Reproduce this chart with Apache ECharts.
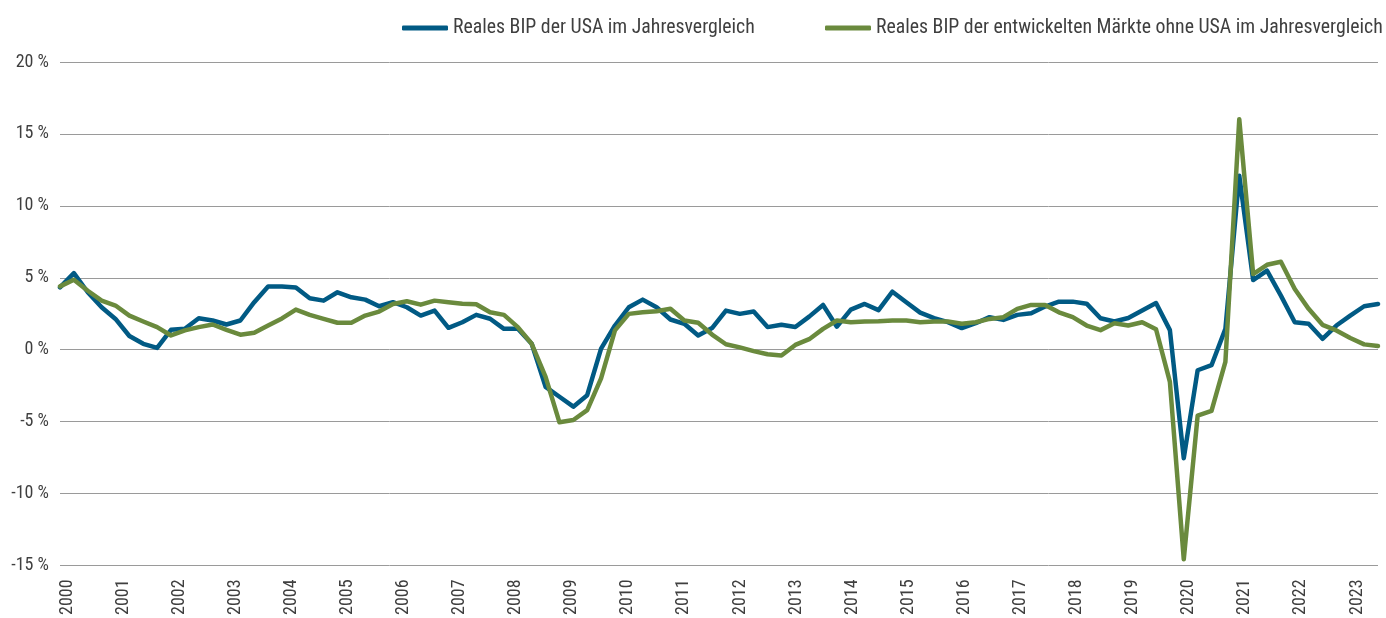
<!DOCTYPE html>
<html>
<head>
<meta charset="utf-8">
<script src="https://cdn.jsdelivr.net/npm/echarts@6/dist/echarts.min.js"></script>
<style>
html,body{margin:0;padding:0;background:#fff;}
#chart{width:1386px;height:618px;}
</style>
</head>
<body>
<div id="chart"></div>
<script>
// ---- Data ----
const years = ['2000','2001','2002','2003','2004','2005','2006','2007','2008','2009','2010','2011',
               '2012','2013','2014','2015','2016','2017','2018','2019','2020','2021','2022','2023'];
const quarters = [];
years.forEach(y => { for (let q = 1; q <= 4; q++) quarters.push(y + ' Q' + q); });

const seriesNames = ['Reales BIP der USA im Jahresvergleich',
                     'Reales BIP der entwickelten Märkte ohne USA im Jahresvergleich'];

const usaGdp = [
  4.33, 5.32, 3.99, 2.95,
  2.14, 0.95, 0.41, 0.12,
  1.38, 1.45, 2.19, 2.03,
  1.75, 2.03, 3.30, 4.40,
  4.40, 4.33, 3.57, 3.41,
  3.99, 3.64, 3.48, 3.02,
  3.30, 2.95, 2.37, 2.72,
  1.52, 1.91, 2.42, 2.15,
  1.45, 1.45, 0.41, -2.58,
  -3.27, -3.96, -3.16, 0.07,
  1.68, 2.95, 3.48, 2.95,
  2.10, 1.80, 0.99, 1.50,
  2.72, 2.49, 2.65, 1.57,
  1.74, 1.58, 2.30, 3.11,
  1.60, 2.79, 3.18, 2.75,
  4.03, 3.30, 2.58, 2.20,
  1.91, 1.50, 1.84, 2.26,
  2.07, 2.42, 2.53, 3.00,
  3.34, 3.34, 3.20, 2.19,
  1.96, 2.20, 2.72, 3.24,
  1.36, -7.54, -1.43, -1.08,
  1.45, 12.10, 4.84, 5.49,
  3.76, 1.91, 1.80, 0.76,
  1.68, 2.37, 3.02, 3.18
];

const devExUsGdp = [
  4.40, 4.86, 4.10, 3.41,
  3.07, 2.37, 1.96, 1.57,
  0.99, 1.34, 1.57, 1.75,
  1.38, 1.04, 1.18, 1.68,
  2.17, 2.79, 2.42, 2.14,
  1.87, 1.87, 2.37, 2.65,
  3.18, 3.37, 3.13, 3.41,
  3.30, 3.20, 3.16, 2.60,
  2.42, 1.57, 0.41, -1.89,
  -5.05, -4.89, -4.20, -2.00,
  1.34, 2.49, 2.60, 2.67,
  2.84, 2.03, 1.87, 1.05,
  0.38, 0.16, -0.10, -0.32,
  -0.41, 0.33, 0.73, 1.45,
  2.03, 1.91, 1.96, 1.98,
  2.03, 2.03, 1.91, 1.96,
  1.96, 1.80, 1.91, 2.14,
  2.26, 2.84, 3.11, 3.11,
  2.60, 2.26, 1.68, 1.36,
  1.84, 1.68, 1.91, 1.42,
  -2.24, -14.57, -4.59, -4.26,
  -0.85, 16.02, 5.26, 5.90,
  6.11, 4.22, 2.84, 1.73,
  1.34, 0.81, 0.37, 0.25
];

const yTicks = { min: -15, max: 20, step: 5 };
const yearTickValues = years.map(Number);

// ---- Font selection (condensed if available) ----
const mctx = document.createElement('canvas').getContext('2d');
function hasFont(f) {
  const s = 'mmmmwwwiiiilllRáéBIP2019';
  mctx.font = '40px monospace';
  const a = mctx.measureText(s).width;
  mctx.font = '40px "' + f + '", monospace';
  return mctx.measureText(s).width !== a;
}
const candidates = ['Roboto Condensed', 'Liberation Sans Narrow', 'Arial Narrow', 'DejaVu Sans Condensed'];
let family = 'Roboto';
for (const c of candidates) { if (hasFont(c)) { family = c; break; } }
function fitSize(text, targetW) {
  mctx.font = '100px "' + family + '"';
  return 100 * targetW / mctx.measureText(text).width;
}
const legendSize = Math.min(21, fitSize(seriesNames[1], 507));
const axisSize = Math.min(18, fitSize('-15 %', 38.5));
const textColor = '#3f3f3f';
const blue = '#015a84';
const green = '#6a8a3d';

const chart = echarts.init(document.getElementById('chart'), null, { renderer: 'canvas' });
chart.setOption({
  animation: false,
  backgroundColor: '#ffffff',
  textStyle: { fontFamily: family },
  legend: [
    {
      data: [seriesNames[0]], left: 397, top: 13,
      itemWidth: 46, itemHeight: 5, icon: 'roundRect', itemGap: 0,
      textStyle: { color: textColor, fontSize: legendSize, fontFamily: family }
    },
    {
      data: [seriesNames[1]], left: 820, top: 13,
      itemWidth: 46, itemHeight: 5, icon: 'roundRect', itemGap: 0,
      textStyle: { color: textColor, fontSize: legendSize, fontFamily: family }
    }
  ],
  grid: { left: 60, right: 8, top: 62, bottom: 50, containLabel: false },
  xAxis: [
    {
      type: 'category', data: quarters, boundaryGap: false,
      axisLine: { show: false }, axisTick: { show: false }, axisLabel: { show: false },
      splitLine: { show: false }
    },
    {
      type: 'value', position: 'bottom', min: 1999.875, max: 2023.373,
      axisLine: { show: false }, axisTick: { show: false }, splitLine: { show: false },
      axisLabel: {
        customValues: yearTickValues, rotate: 90, margin: 14,
        color: textColor, fontSize: axisSize, fontFamily: family,
        formatter: v => String(Math.round(v))
      }
    }
  ],
  yAxis: {
    type: 'value', min: yTicks.min, max: yTicks.max, interval: yTicks.step,
    axisLine: { show: false }, axisTick: { show: false },
    axisLabel: { color: textColor, fontSize: axisSize, fontFamily: family, margin: 11,
                 formatter: v => v + ' %' },
    splitLine: { lineStyle: { color: '#9a9a9a', width: 1 } }
  },
  series: [
    {
      name: seriesNames[0], type: 'line', xAxisIndex: 0, data: usaGdp,
      showSymbol: false, symbol: 'none', color: blue,
      lineStyle: { color: blue, width: 4.5, cap: 'round', join: 'round' }, z: 3
    },
    {
      name: seriesNames[1], type: 'line', xAxisIndex: 0, data: devExUsGdp,
      showSymbol: false, symbol: 'none', color: green,
      lineStyle: { color: green, width: 4.5, cap: 'round', join: 'round' }, z: 4
    }
  ]
});
</script>
</body>
</html>
